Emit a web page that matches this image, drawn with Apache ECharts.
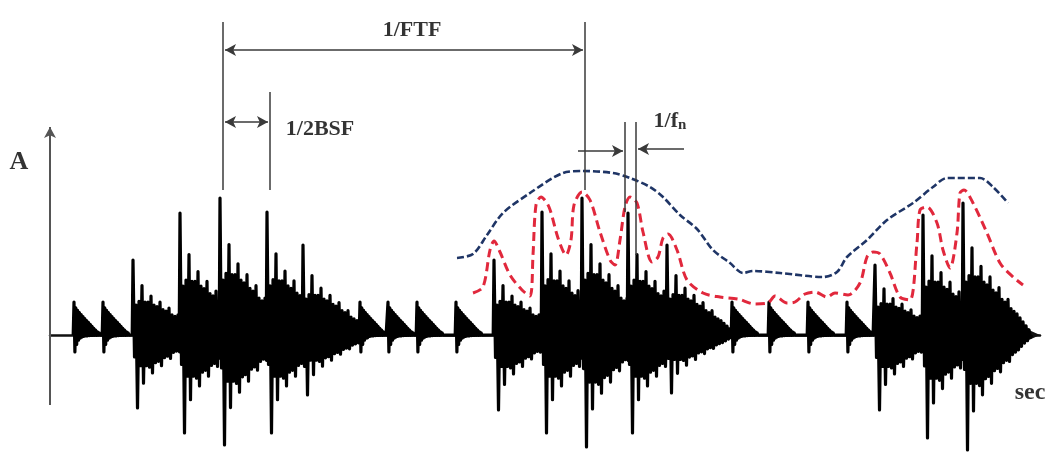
<!DOCTYPE html>
<html>
<head>
<meta charset="utf-8">
<script src="https://cdn.jsdelivr.net/npm/echarts@6/dist/echarts.min.js"></script>
<style>
  html, body { margin: 0; padding: 0; background: #fff; }
  #chart { width: 1054px; height: 453px; }
</style>
</head>
<body>
<div id="chart"></div>
<script>
// Impact bursts of a bearing vibration signal (time in px-like units, amplitude above baseline)
const bigTime = [83, 130, 170, 217, 253, 444, 492, 532, 578, 617, 825, 873, 913];
const bigUp   = [75, 122, 137, 123, 90, 75, 123, 137, 122, 90, 70, 120, 132];
const bigDown = [73, 98, 110, 98, 60, 75, 98, 112, 98, 58, 75, 103, 115];

const smallTime = [24, 53, 310, 338, 367, 406, 682, 719, 758, 797];
const smallUp   = [33, 33, 33, 33, 33, 33, 33, 33, 33, 33];
const smallDown = [17, 17, 17, 17, 17, 17, 17, 17, 17, 17];

// Relative peak heights of successive ringing cycles after an impact
const bigShapeUp = [1.0, 0.40, 0.45, 0.66, 0.44, 0.44, 0.52, 0.40, 0.38, 0.44, 0.34, 0.32,
  0.36, 0.27, 0.25, 0.27, 0.20, 0.18, 0.16, 0.13, 0.10, 0.07, 0.04];
const bigShapeDown = [0.30, 1.0, 0.42, 0.66, 0.42, 0.44, 0.52, 0.38, 0.36, 0.42, 0.31, 0.29,
  0.32, 0.24, 0.22, 0.23, 0.17, 0.15, 0.13, 0.10, 0.07, 0.05, 0.02];
const smallShapeUp = [1.0, 0.82, 0.75, 0.68, 0.62, 0.56, 0.50, 0.44, 0.38, 0.32, 0.26, 0.20, 0.15, 0.10, 0.06];
const smallShapeDown = [1.0, 0.55, 0.30, 0.18, 0.12, 0.08, 0.06, 0.05, 0.04, 0.03, 0.03, 0.02, 0.02, 0.01, 0.01];

// Envelope traces
const blueEnvelope = [[407,77],[423,81],[437,100],[453,122],[480,142],[513,162],[533,164],[563,162],
  [580,157],[600,148],[613,138],[630,120],[647,106],[663,85],[680,72],[693,62],[703,64],[730,62],
  [773,58],[787,63],[797,78],[817,95],[837,115],[863,132],[883,148],[897,157],[930,157],[943,148],[958,132]];
const redEnvelope = [[423,42],[433,48],[440,85],[444,94],[450,83],[460,60],[472,45],[480,39],[483,80],
  [486,130],[491,138],[499,128],[508,97],[516,80],[521,95],[524,130],[532,143],[540,135],[550,103],
  [560,75],[565,70],[570,95],[575,128],[580,138],[587,132],[593,103],[602,73],[608,78],[613,97],
  [618,101],[627,85],[637,55],[653,42],[670,38],[688,36],[705,31],[718,32],[725,39],[737,32],[745,33],
  [755,41],[765,43],[777,38],[785,42],[798,40],[810,52],[817,78],[823,83],[830,81],[840,62],[850,38],
  [860,35],[867,92],[870,125],[877,128],[887,112],[893,85],[900,67],[907,102],[910,142],[914,145],
  [923,132],[937,102],[950,72],[963,58],[973,50]];

function burstPoints(t0, up, down, shapeUp, shapeDown, step) {
  const pts = [[t0 - 0.8, 0]];
  for (let k = 0; k < shapeUp.length; k++) {
    pts.push([t0 + k * step, up * shapeUp[k]]);
    pts.push([t0 + k * step + step / 2, -down * shapeDown[k]]);
  }
  pts.push([t0 + shapeUp.length * step, 0]);
  return pts;
}

const bursts = [];
bigTime.forEach((t, i) => bursts.push({ t, pts: burstPoints(t, bigUp[i], bigDown[i], bigShapeUp, bigShapeDown, 3) }));
smallTime.forEach((t, i) => bursts.push({ t, pts: burstPoints(t, smallUp[i], smallDown[i], smallShapeUp, smallShapeDown, 1.8) }));
bursts.sort((a, b) => a.t - b.t);
const signal = [];
bursts.forEach(b => b.pts.forEach(p => signal.push(p)));

const serif = '"Liberation Serif", "Times New Roman", serif';
const txt = { fontFamily: serif, fontWeight: 'bold', color: '#000' };
const annLine = { color: '#3a3a3a', width: 1.5, type: 'solid' };

function seg(x1, y1, x2, y2, s1, s2) {
  return [
    { coord: [x1, y1], symbol: s1 || 'none' },
    { coord: [x2, y2], symbol: s2 || 'none' }
  ];
}

const chart = echarts.init(document.getElementById('chart'), null, { renderer: 'canvas' });
chart.setOption({
  animation: false,
  backgroundColor: '#fff',
  grid: { left: 50, right: 14, top: 0, bottom: 0 },
  xAxis: {
    type: 'value', min: 0, max: 990,
    axisLine: {
      show: true, onZero: true,
      symbol: ['none', 'arrow'], symbolSize: [10, 15],
      lineStyle: { color: '#111', width: 2.5 }
    },
    axisTick: { show: false }, axisLabel: { show: false }, splitLine: { show: false }
  },
  yAxis: {
    type: 'value', min: -118, max: 335,
    axisLine: { show: false }, axisTick: { show: false },
    axisLabel: { show: false }, splitLine: { show: false }
  },
  series: [
    {
      name: 'signal', type: 'line', data: signal, symbol: 'none',
      lineStyle: { color: '#000', width: 3.2, join: 'round' }, z: 3
    },
    {
      name: 'envelope', type: 'line', data: blueEnvelope, symbol: 'none', smooth: 0.3,
      lineStyle: { color: '#1f3566', width: 2.6, type: [7, 3] }, z: 4
    },
    {
      name: 'peaks', type: 'line', data: redEnvelope, symbol: 'none', smooth: 0.3,
      lineStyle: { color: '#e1283c', width: 3, type: [9, 5] }, z: 4
    },
    {
      name: 'annotations', type: 'line', data: [], z: 5,
      markLine: {
        silent: true, animation: false,
        symbolSize: [9, 11],
        label: { show: false },
        lineStyle: annLine,
        data: [
          // amplitude axis
          [{ coord: [0, -70], symbol: 'none', lineStyle: { color: '#555', width: 2, type: 'solid' } },
           { coord: [0, 208], symbol: 'arrow' }],
          seg(173, 313, 173, 145),
          seg(220, 243, 220, 145),
          seg(535, 313, 535, 145),
          seg(575, 213, 575, 123),
          seg(586, 213, 586, 80),
          seg(175, 285, 533, 285, 'arrow', 'arrow'),
          seg(175, 213, 218, 213, 'arrow', 'arrow'),
          seg(528, 184, 573, 184, 'none', 'arrow'),
          seg(634, 186, 588, 186, 'none', 'arrow')
        ]
      }
    },
    {
      name: 'labels', type: 'scatter', symbolSize: 0, clip: false, z: 6, silent: true,
      label: { show: true, position: 'inside', ...txt },
      data: [
        { value: [-31, 173], label: { formatter: 'A', fontSize: 26, color: '#000' } },
        { value: [980, -58], label: { formatter: 'sec', fontSize: 24, color: '#000' } },
        { value: [362, 305], label: { formatter: '1/FTF', fontSize: 22, color: '#000' } },
        { value: [270, 206], label: { formatter: '1/2BSF', fontSize: 22, color: '#000' } },
        {
          value: [620, 214],
          label: {
            formatter: '{a|1/f}{b|n}',
            rich: {
              a: { ...txt, fontSize: 22 },
              b: { ...txt, fontSize: 15, padding: [9, 0, 0, 0] }
            }
          }
        }
      ]
    }
  ]
});
</script>
</body>
</html>
